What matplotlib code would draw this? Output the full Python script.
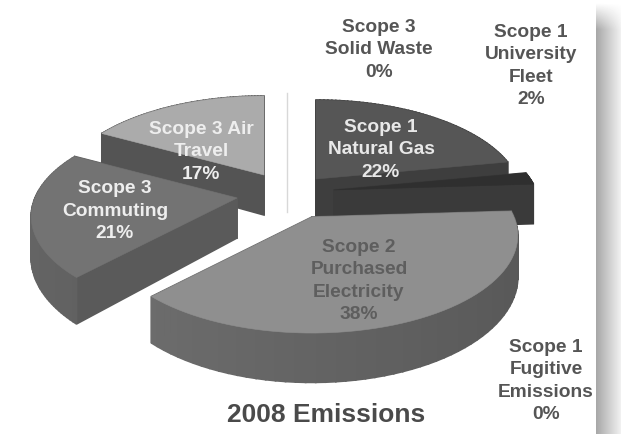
from matplotlib import pyplot as plt
from matplotlib.patches import Polygon
import numpy as np

plt.rcParams['font.family'] = ['Liberation Sans', 'DejaVu Sans']

# Pie data, clockwise from 12 o'clock
slices = ["Natural Gas", "University Fleet", "Fugitive Emissions",
          "Purchased Electricity", "Commuting", "Air Travel", "Solid Waste"]
shares = [22, 2, 0, 38, 21, 17, 0]
labels = ["Scope 1\nNatural Gas\n22%", "Scope 1\nUniversity\nFleet\n2%",
          "Scope 1\nFugitive\nEmissions\n0%", "Scope 2\nPurchased\nElectricity\n38%",
          "Scope 3\nCommuting\n21%", "Scope 3 Air\nTravel\n17%",
          "Scope 3\nSolid Waste\n0%"]
title = "2008 Emissions"

# Styling, in picture pixels
centers = [(316, 179), (334, 190), (312, 217), (312, 217), (237, 198), (264, 175), (287, 172)]
top_colors = ["#565656", "#2f2f2f", "#8c8c8c", "#8f8f8f", "#737373", "#ababab", "#d8d8d8"]
side_colors = ["#3e3e3e", "#3a3a3a", "#8c8c8c", "#646464", "#5a5a5a", "#545454", "#d8d8d8"]
label_pos = [(381, 150), (531, 66), (546, 381), (359, 281), (115, 211), (201, 152), (379, 50)]
label_colors = ["#e8e8e8", "#555555", "#555555", "#5e5e5e", "#eeeeee", "#eeeeee", "#555555"]
draw_order = [0, 1, 2, 6, 5, 4, 3]

RADIUS = 202
TILT = 94
DEPTH = 40
PERSP = 0.19


def project(center, angle):
    # Flat circle seen at an angle, nearer points come out bigger
    u, v = np.cos(angle), np.sin(angle)
    s = 1 / (1 + PERSP * v)
    return center[0] + RADIUS * u * s, center[1] - TILT * v * s, s


def shade(color, amount):
    rgb = np.array(plt.matplotlib.colors.to_rgb(color)) * amount
    return tuple(np.clip(rgb, 0, 1))


def drawSlice(ax, center, start, end, top_color, side_color):
    angles = np.linspace(start, end, 60)
    xs, ys, ss = project(center, angles)
    bottom = ys + DEPTH * ss

    # Side faces, the ones further back first
    faces = []
    for i in range(len(angles) - 1):
        pts = [(xs[i], ys[i]), (xs[i + 1], ys[i + 1]), (xs[i + 1], bottom[i + 1]), (xs[i], bottom[i])]
        faces.append((pts, shade(side_color, 1.0 - 0.12 * np.cos(angles[i]))))
    for k in [0, -1]:
        pts = [center, (xs[k], ys[k]), (xs[k], bottom[k]), (center[0], center[1] + DEPTH)]
        faces.append((pts, side_color))
    faces.sort(key=lambda f: np.mean([p[1] for p in f[0]]))
    for pts, color in faces:
        ax.add_patch(Polygon(pts, facecolor=color, edgecolor=color, lw=1.2))

    outline = [center] + list(zip(xs, ys))
    ax.add_patch(Polygon(outline, facecolor=top_color, edgecolor=top_color, lw=0.4))


fig = plt.figure(figsize=(6.21, 4.34), dpi=100)
ax = fig.add_axes([0, 0, 1, 1])

# Drop shadow of the page on the right, fading out at the top
across = np.linspace(0.66, 0.94, 25)
down = np.clip(np.linspace(-0.1, 1.4, 40), 0, 1)
fade = np.ones((434, 25))
fade[:40, :] = down[:, None]
shadow = 1 - (1 - across) * fade
ax.imshow(shadow, cmap='gray', vmin=0, vmax=1, extent=(596, 621, 434, 0), aspect='auto', zorder=0)
ax.set_xlim(0, 621)
ax.set_ylim(434, 0)
ax.axis('off')

edges = np.radians(90 - 3.6 * np.cumsum([0] + shares))
for idx in draw_order:
    if shares[idx] == 0 and slices[idx] == "Solid Waste":
        x, y, s = project(centers[idx], edges[idx])
        ax.plot([x, x], [y, centers[idx][1] + DEPTH], color=top_colors[idx], lw=1)
    elif shares[idx] > 0:
        drawSlice(ax, centers[idx], edges[idx], edges[idx + 1], top_colors[idx], side_colors[idx])

for txt, pos, color in zip(labels, label_pos, label_colors):
    ax.text(pos[0], pos[1], txt, ha='center', va='center', color=color, fontsize=13.8,
            fontweight='bold', linespacing=1.4)
ax.text(326, 415, title, ha='center', va='center', color="#4a4a4a", fontsize=19, fontweight='bold')

plt.savefig('out.png', dpi=100)
plt.close()
